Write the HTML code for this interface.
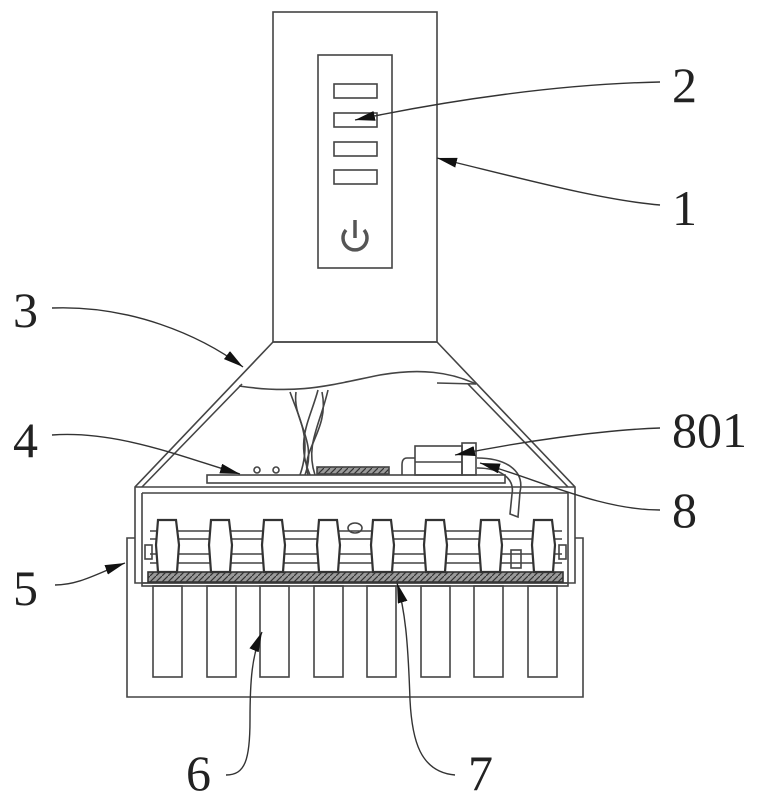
<!DOCTYPE html>
<html><head><meta charset="utf-8"><style>
html,body{margin:0;padding:0;background:#fff;}
svg{display:block;}
text{font-family:"Liberation Serif",serif;font-size:50px;fill:#222;}
</style></head><body>
<svg width="765" height="799" viewBox="0 0 765 799" xmlns="http://www.w3.org/2000/svg">
<defs>
<marker id="ar" viewBox="0 0 20 10" refX="20" refY="5" markerWidth="20" markerHeight="10" markerUnits="userSpaceOnUse" orient="auto"><path d="M0,0 L20,5 L0,10 Z" fill="#111"/></marker>
<pattern id="hat" width="6" height="6" patternUnits="userSpaceOnUse"><rect width="6" height="6" fill="#999"/><path d="M0,6 L6,0" stroke="#333" stroke-width="1.2"/></pattern>
</defs>
<g fill="none" stroke="#444" stroke-width="1.6">
<rect x="273" y="12" width="164" height="330"/>
<rect x="318" y="55" width="74" height="213"/>
<rect x="334" y="84" width="43" height="14"/>
<rect x="334" y="113" width="43" height="14"/>
<rect x="334" y="142" width="43" height="14"/>
<rect x="334" y="170" width="43" height="14"/>
<path d="M346,230 A12,12 0 1 0 364,230" stroke-width="3.5" stroke="#555"/>
<line x1="355" y1="220" x2="355" y2="238" stroke-width="3.5" stroke="#555"/>
<path d="M273,342 L437,342 L575,487 L575,583 L135,583 L135,487 Z"/>
<path d="M242,384 L142,487 M468,384 L568,487"/>
<path d="M239,386 C300,395 330,385 380,375 C420,368 450,372 476,384"/>
<line x1="437" y1="383" x2="476" y2="384"/>
<line x1="135" y1="487" x2="575" y2="487"/>
<line x1="142" y1="493" x2="568" y2="493"/>
<path d="M142,493 L142,583 M568,493 L568,583"/>
<path d="M290,392 C300,420 312,440 300,475" />
<path d="M296,392 C292,420 318,440 305,475" />
<path d="M318,390 C310,420 295,440 310,475" />
<path d="M328,390 C320,425 305,445 315,475" />
<path d="M322,392 C330,430 300,450 308,475" />
<rect x="207" y="475" width="298" height="8"/>
<circle cx="257" cy="470" r="3"/><circle cx="276" cy="470" r="3"/>
<rect x="317" y="467" width="72" height="7" fill="url(#hat)" stroke="#444"/>
<rect x="415" y="446" width="47" height="29"/>
<line x1="415" y1="462" x2="462" y2="462"/>
<path d="M415,458 L407,458 Q402,458 402,465 L402,475"/>
<rect x="462" y="443" width="14" height="32"/>
<path d="M477,458 C505,458 525,470 520,492 L518,517 L510,514 L512,494 C515,478 500,468 477,468"/>
<path d="M135,538 L127,538 L127,697 L583,697 L583,538 L575,538"/>
<rect x="142" y="583" width="426" height="3"/>
<rect x="153" y="586" width="29" height="91"/>
<rect x="207" y="586" width="29" height="91"/>
<rect x="260" y="586" width="29" height="91"/>
<rect x="314" y="586" width="29" height="91"/>
<rect x="367" y="586" width="29" height="91"/>
<rect x="421" y="586" width="29" height="91"/>
<rect x="474" y="586" width="29" height="91"/>
<rect x="528" y="586" width="29" height="91"/>
<line x1="150" y1="531" x2="562" y2="531"/>
<line x1="150" y1="539" x2="562" y2="539"/>
<line x1="150" y1="554" x2="562" y2="554"/>
<line x1="150" y1="563" x2="562" y2="563"/>
<rect x="145" y="545" width="7" height="14"/>
<rect x="559" y="545" width="7" height="14"/>
<rect x="148" y="572" width="415" height="10" fill="url(#hat)" stroke="#333"/>
<ellipse cx="355" cy="528" rx="7" ry="5"/>
<rect x="511" y="550" width="10" height="18"/>
</g>
<g fill="#fff" stroke="#333" stroke-width="2.2">
<path d="M158,520 L176,520 L179,545 L177,572 L158,572 L156,545 Z"/>
<path d="M211,520 L229,520 L232,545 L230,572 L211,572 L209,545 Z"/>
<path d="M264,520 L282,520 L285,545 L283,572 L264,572 L262,545 Z"/>
<path d="M319,520 L337,520 L340,545 L338,572 L319,572 L317,545 Z"/>
<path d="M373,520 L391,520 L394,545 L392,572 L373,572 L371,545 Z"/>
<path d="M426,520 L444,520 L447,545 L445,572 L426,572 L424,545 Z"/>
<path d="M481,520 L499,520 L502,545 L500,572 L481,572 L479,545 Z"/>
<path d="M534,520 L552,520 L555,545 L553,572 L534,572 L532,545 Z"/>
</g>
<g fill="none" stroke="#333" stroke-width="1.4" marker-end="url(#ar)">
<path d="M660,82 C560,84 450,100 355,120"/>
<path d="M660,205 C600,200 520,178 437,158"/>
<path d="M52,308 C130,305 200,335 243,367"/>
<path d="M52,435 C120,430 190,460 240,474"/>
<path d="M660,428 C600,430 520,442 455,455"/>
<path d="M660,510 C600,510 540,480 480,463"/>
<path d="M55,585 C80,585 100,572 125,563"/>
<path d="M226,775 C245,775 250,760 250,720 C250,680 252,655 262,632"/>
<path d="M455,775 C420,772 412,740 410,700 C408,640 405,610 397,583"/>
</g>
<text x="672" y="102">2</text>
<text x="672" y="225">1</text>
<text x="13" y="327">3</text>
<text x="13" y="457">4</text>
<text x="672" y="447">801</text>
<text x="672" y="527">8</text>
<text x="13" y="605">5</text>
<text x="186" y="790">6</text>
<text x="468" y="790">7</text>
</svg>
</body></html>
